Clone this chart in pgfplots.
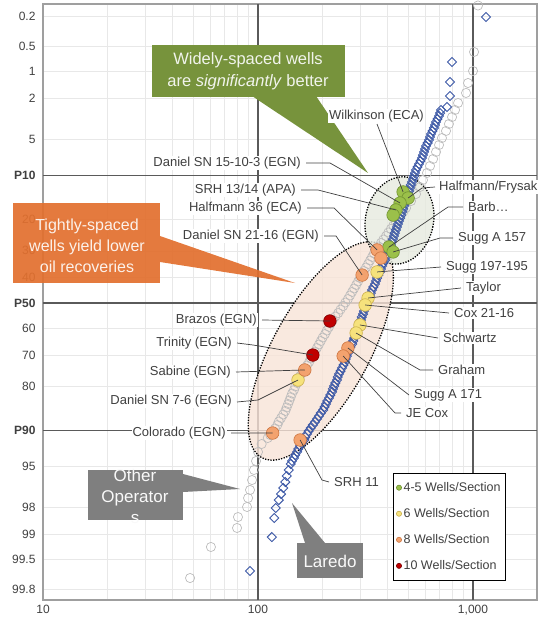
\documentclass[border=0pt]{standalone}
\usepackage{pgfplots}
\pgfplotsset{compat=1.18}
\usepackage{fontspec}
\setmainfont{Liberation Sans}
\definecolor{txt}{HTML}{404040}
\definecolor{darkgrid}{HTML}{5A5A5A}
\definecolor{lblue}{HTML}{3C58A6}
\definecolor{ogray}{HTML}{BDBDBD}
\definecolor{wgreen}{HTML}{9BC04A}
\definecolor{wgreenE}{HTML}{6E9030}
\definecolor{wyellow}{HTML}{F6E27C}
\definecolor{wyellowE}{HTML}{C9AE4A}
\definecolor{worange}{HTML}{F3A26E}
\definecolor{worangeE}{HTML}{CC7440}
\definecolor{wred}{HTML}{C00000}
\definecolor{wredE}{HTML}{7A0000}
\definecolor{callgreen}{HTML}{77933C}
\definecolor{callorange}{HTML}{E2702F}
\definecolor{callgray}{HTML}{7F7F7F}
\definecolor{ellorange}{HTML}{F8E3D7}
\definecolor{ellgreen}{HTML}{E6EADF}

\begin{document}
\begin{tikzpicture}
\useasboundingbox (0pt,0pt) rectangle (538pt,-628pt);
\begin{axis}[
    at={(43pt,-600pt)}, anchor=south west,
    scale only axis, width=494pt, height=596pt,
    xmode=log, xmin=10, xmax=1985,
    ymin=-3.005, ymax=2.985, y dir=reverse,
    axis line style={draw=gray!75, line width=1.6pt},
    xtick={10,100,1000}, xticklabels={10,100,{1,000}},
    minor xtick={20,30,40,50,60,70,80,90,200,300,400,500,600,700,800,900},
    ytick={-2.878,-2.576,-2.326,-2.054,-1.645,-0.8416,-0.5244,-0.2533,0.2533,0.5244,0.8416,1.645,2.054,2.326,2.576,2.878},
    yticklabels={0.2,0.5,1,2,5,20,30,40,60,70,80,95,98,99,99.5,99.8},
    extra y ticks={-1.2816,0,1.2816},
    extra y tick labels={\textbf{P10},\textbf{P50},\textbf{P90}},
    extra y tick style={grid=none},
    xmajorgrids, xminorgrids, ymajorgrids,
    major grid style={draw=gray!18, line width=0.6pt},
    minor grid style={draw=gray!18, line width=0.6pt},
    major tick length=0pt, minor tick length=0pt,
    /pgf/number format/assume math mode=true,
    ticklabel style={font=\fontsize{12}{14}\selectfont, text=txt},
    yticklabel style={xshift=-4pt},
    xticklabel style={yshift=-2pt},
    legend style={at={(0.7085,0.2131)}, anchor=north west, draw=black,
        line width=0.8pt, fill=white, font=\fontsize{12.5}{14}\selectfont,
        text=txt, row sep=11.5pt, inner xsep=3pt, inner ysep=7pt},
    legend cell align=left,
    legend image code/.code={\draw[#1, mark size=2.6pt, line width=0.4pt] plot coordinates {(0.18cm,0cm)};},
]
% dark reference lines
\draw[darkgrid, line width=1.3pt] (axis cs:100,-3.005) -- (axis cs:100,2.985);
\draw[darkgrid, line width=1.3pt] (axis cs:1000,-3.005) -- (axis cs:1000,2.985);
\draw[darkgrid, line width=1.3pt] (axis cs:10,-1.2816) -- (axis cs:1985,-1.2816);
\draw[darkgrid, line width=1.3pt] (axis cs:10,0) -- (axis cs:1985,0);
\draw[darkgrid, line width=1.3pt] (axis cs:10,1.2816) -- (axis cs:1985,1.2816);
% spacing groups
\draw[black, line width=1.3pt, dash pattern=on 1.3pt off 1.4pt, fill=ellorange, fill opacity=0.8]
    (axis cs:196,0.482) ellipse [x radius=122pt, y radius=48pt, rotate=61];
\draw[black, line width=1.3pt, dash pattern=on 1.3pt off 1.4pt, fill=ellgreen, fill opacity=0.8]
    (axis cs:455,-0.83) ellipse [x radius=34pt, y radius=44pt, rotate=-12];

% Other operators
\addplot[only marks, mark=o, mark size=4.6pt, draw=ogray, mark options={fill=gray!8, line width=0.7pt}, forget plot]
coordinates {
(1055,-2.99) (1011,-2.523) (1000,-2.332) (948,-2.211) (928,-2.111) (852,-2.010)
(825,-1.940) (799,-1.869) (773,-1.799) (749,-1.729) (717,-1.658) (695,-1.588)
(673,-1.518) (652,-1.447) (631,-1.377) (611,-1.307) (585,-1.236) (567,-1.166)
(543,-1.095) (515,-1.025) (488,-0.955) (475,-0.920) (463,-0.884) (450,-0.849)
(438,-0.814) (426,-0.779) (415,-0.744) (404,-0.709) (394,-0.673) (383,-0.638)
(373,-0.603) (363,-0.568) (354,-0.533) (346,-0.498) (339,-0.462) (332,-0.427)
(325,-0.392) (318,-0.357) (311,-0.322) (304,-0.287) (298,-0.251) (292,-0.216)
(286,-0.181) (280,-0.146) (274,-0.111) (268,-0.076) (262,-0.040) (255,-0.005)
(249,0.030) (242,0.066) (236,0.101) (229,0.136) (223,0.171) (218,0.206)
(214,0.241) (209,0.277) (205,0.312) (200,0.347) (196,0.382) (192,0.417)
(188,0.452) (184,0.488) (180,0.523) (176,0.558) (173,0.593) (169,0.628)
(165,0.663) (161,0.699) (157,0.734) (154,0.769) (152,0.804) (149,0.839)
(147,0.874) (144,0.910) (142,0.945) (140,0.980) (138,1.015) (136,1.050)
(134,1.085) (131,1.121) (128,1.156) (125,1.191) (123,1.226) (120,1.261)
(117,1.296) (114,1.327) (111,1.357) (104,1.417) (100,1.497) (97.9,1.588)
(95.8,1.678) (93.8,1.779) (91.8,1.879) (89.9,1.960) (88.9,2.050) (80.7,2.151)
(79.9,2.261) (60.4,2.452) (48.3,2.764)
};

% Laredo
\addplot[only marks, mark=square, mark size=3.2pt, draw=lblue, mark options={rotate=45, fill=white, line width=0.9pt}, forget plot]
coordinates {
(1149,-2.874) (799,-2.422) (782,-2.221) (782,-2.080) (757,-1.970)
(710,-1.940) (703,-1.909) (695,-1.879) (684,-1.849) (673,-1.819) (666,-1.789)
(658,-1.759) (648,-1.728) (638,-1.698) (631,-1.668) (624,-1.638) (615,-1.608)
(605,-1.578) (598,-1.548) (592,-1.518) (585,-1.487) (579,-1.457) (570,-1.427)
(561,-1.397) (552,-1.367) (543,-1.337) (537,-1.306) (532,-1.276) (526,-1.246)
(520,-1.216) (514,-1.186) (509,-1.156) (504,-1.125) (499,-1.095) (493,-1.065)
(488,-1.035) (483,-1.005) (478,-0.975) (473,-0.945) (468,-0.915) (463,-0.884)
(458,-0.854) (453,-0.824) (448,-0.794) (443,-0.764) (438,-0.734) (433,-0.703)
(429,-0.673) (424,-0.643) (420,-0.613) (415,-0.583) (411,-0.553) (404,-0.522)
(398,-0.492) (394,-0.462) (390,-0.432) (383,-0.402) (377,-0.372) (373,-0.342)
(369,-0.312) (363,-0.281) (358,-0.251) (354,-0.221) (350,-0.191) (344,-0.161)
(339,-0.131) (335,-0.100) (332,-0.070) (326,-0.040) (321,-0.010) (318,0.020)
(315,0.050) (311,0.081) (308,0.111) (304,0.141) (301,0.171) (298,0.201)
(295,0.231) (290,0.261) (286,0.291) (283,0.322) (280,0.352) (277,0.382)
(274,0.412) (269,0.442) (265,0.472) (262,0.503) (259,0.533) (256,0.563)
(254,0.593) (250,0.623) (246,0.653) (242,0.684) (238,0.714) (235,0.744)
(233,0.774) (229,0.804) (226,0.834) (223,0.864) (221,0.894) (217,0.925)
(214,0.955) (210,0.985) (207,1.015) (204,1.045) (201,1.075) (196,1.106)
(192,1.136) (188,1.166) (184,1.196) (180,1.226) (176,1.256) (172,1.287)
(169,1.317) (166,1.347) (164,1.377) (160,1.407) (157,1.437) (154,1.467)
(152,1.497) (149,1.528) (147,1.558) (144,1.588) (142,1.618)
(139,1.678) (136,1.739) (134,1.799) (131,1.859) (128,1.920) (125,1.980)
(121,2.060) (119,2.161) (116,2.352) (91.8,2.693)
};

% 4-5 wells/section
\addplot[only marks, mark=*, mark size=6.3pt, draw=wgreenE, fill=wgreen, mark options={line width=0.6pt}]
coordinates {(473,-1.116) (499,-1.055) (458,-1.005) (438,-0.935) (425,-0.884) (407,-0.563) (425,-0.513)};
% 6 wells/section
\addplot[only marks, mark=*, mark size=6.3pt, draw=wyellowE, fill=wyellow, mark options={line width=0.6pt}]
coordinates {(358,-0.312) (325,-0.050) (315,0.020) (298,0.221) (286,0.302) (153.5,0.774)};
% 8 wells/section
\addplot[only marks, mark=*, mark size=6.3pt, draw=worangeE, fill=worange, mark options={line width=0.6pt}]
coordinates {(358,-0.533) (373,-0.452) (305,-0.281) (262,0.452) (249,0.533) (165,0.673) (117,1.307) (157,1.377)};
% 10 wells/section
\addplot[only marks, mark=*, mark size=6.3pt, draw=wredE, fill=wred, mark options={line width=0.6pt}]
coordinates {(216,0.181) (180,0.523)};
\legend{4-5 Wells/Section, 6 Wells/Section, 8 Wells/Section, 10 Wells/Section}

% anchor points for the leaders
\coordinate (wilk) at (axis cs:473,-1.116);
\coordinate (hf) at (axis cs:499,-1.055);
\coordinate (dan15) at (axis cs:458,-1.005);
\coordinate (srh1314) at (axis cs:438,-0.935);
\coordinate (barb) at (axis cs:407,-0.563);
\coordinate (sugg157) at (axis cs:425,-0.513);
\coordinate (half36) at (axis cs:358,-0.533);
\coordinate (sugg197) at (axis cs:358,-0.312);
\coordinate (taylor) at (axis cs:325,-0.050);
\coordinate (cox) at (axis cs:315,0.020);
\coordinate (schwartz) at (axis cs:298,0.221);
\coordinate (graham) at (axis cs:286,0.302);
\coordinate (dan76) at (axis cs:153.5,0.774);
\coordinate (dan2116) at (axis cs:305,-0.281);
\coordinate (sugg171) at (axis cs:262,0.452);
\coordinate (jecox) at (axis cs:249,0.533);
\coordinate (sabine) at (axis cs:165,0.673);
\coordinate (colorado) at (axis cs:117,1.307);
\coordinate (srh11) at (axis cs:157,1.377);
\coordinate (brazos) at (axis cs:216,0.181);
\coordinate (trinity) at (axis cs:180,0.523);
\end{axis}

\begin{scope}[x=1pt, y=-1pt]
\tikzset{lab/.style={font=\fontsize{13}{15}\selectfont, text=txt, inner sep=1pt, fill=white},
         lead/.style={draw=txt, line width=0.7pt}}
% callouts
\fill[callgreen] (152,45) rectangle (345,97);
\fill[callgreen] (252,96) -- (316,96) -- (368,173) -- cycle;
\node[font=\fontsize{16.5}{22}\selectfont, text=white!90!callgreen, align=center] at (248,71)
    {Widely-spaced wells\\are \textit{significantly} better};
\fill[callorange, opacity=0.93] (13,203) rectangle (160,283);
\fill[callorange, opacity=0.93] (160,236) -- (295,283) -- (160,262) -- cycle;
\node[font=\fontsize{16}{21}\selectfont, text=white!90!callorange, align=center] at (87,246)
    {Tightly-spaced\\wells yield lower\\oil recoveries};
\fill[callgray] (88,470) rectangle (183,520);
\fill[callgray] (183,474) -- (240,489) -- (183,492) -- cycle;
\node[font=\fontsize{17}{21}\selectfont, text=white!95!callgray, align=center] at (135,496)
    {Other\\Operator\\s};
\fill[callgray] (297,543) rectangle (363,578);
\fill[callgray] (292,503) -- (305,543) -- (325,543) -- cycle;
\node[font=\fontsize{17}{21}\selectfont, text=white!95!callgray] at (330,561) {Laredo};
% leaders
\draw[lead] (306,163) -- (330,163) -- (dan15);
\draw[lead] (301,190) -- (318,190) -- (srh1314);
\draw[lead] (307,208) -- (334,208) -- (half36);
\draw[lead] (324,236) -- (336,236) -- (dan2116);
\draw[lead] (262,320) -- (brazos);
\draw[lead] (237,343) -- (253,345) -- (trinity);
\draw[lead] (236,372) -- (sabine);
\draw[lead] (237,402) -- (258,400) -- (dan76);
\draw[lead] (231,433) -- (colorado);
\draw[lead] (377,124) -- (wilk);
\draw[lead] (435,187) -- (422,188) -- (hf);
\draw[lead] (463,207) -- (448,207) -- (barb);
\draw[lead] (453,238) -- (440,238) -- (sugg157);
\draw[lead] (441,267) -- (sugg197);
\draw[lead] (461,288) -- (taylor);
\draw[lead] (449,313) -- (cox);
\draw[lead] (438,338) -- (schwartz);
\draw[lead] (433,370) -- (420,370) -- (graham);
\draw[lead] (409,395) -- (sugg171);
\draw[lead] (401,413) -- (395,413) -- (jecox);
\draw[lead] (329,482) -- (322,480) -- (srh11);
% left labels
\node[lab, anchor=east] at (302,163) {Daniel SN 15-10-3 (EGN)};
\node[lab, anchor=east] at (297,190) {SRH 13/14 (APA)};
\node[lab, anchor=east] at (303,208) {Halfmann 36 (ECA)};
\node[lab, anchor=east] at (320,236) {Daniel SN 21-16 (EGN)};
\node[lab, anchor=east] at (258,320) {Brazos (EGN)};
\node[lab, anchor=east] at (233,343) {Trinity (EGN)};
\node[lab, anchor=east] at (232,372) {Sabine (EGN)};
\node[lab, anchor=east] at (233,401) {Daniel SN 7-6 (EGN)};
\node[lab, anchor=east] at (227,433) {Colorado (EGN)};
% right labels
\node[lab, anchor=west] at (328,116) {Wilkinson (ECA)};
\node[lab, anchor=west] at (438,187) {Halfmann/Frysak};
\node[lab, anchor=west] at (467,207) {Barb\ldots};
\node[lab, anchor=west] at (457,238) {Sugg A 157};
\node[lab, anchor=west] at (445,267) {Sugg 197-195};
\node[lab, anchor=west] at (465,288) {Taylor};
\node[lab, anchor=west] at (453,313) {Cox 21-16};
\node[lab, anchor=west] at (442,338) {Schwartz};
\node[lab, anchor=west] at (437,370) {Graham};
\node[lab, anchor=west] at (413,395) {Sugg A 171};
\node[lab, anchor=west] at (405,413) {JE Cox};
\node[lab, anchor=west] at (333,482) {SRH 11};
\end{scope}
\end{tikzpicture}
\end{document}
